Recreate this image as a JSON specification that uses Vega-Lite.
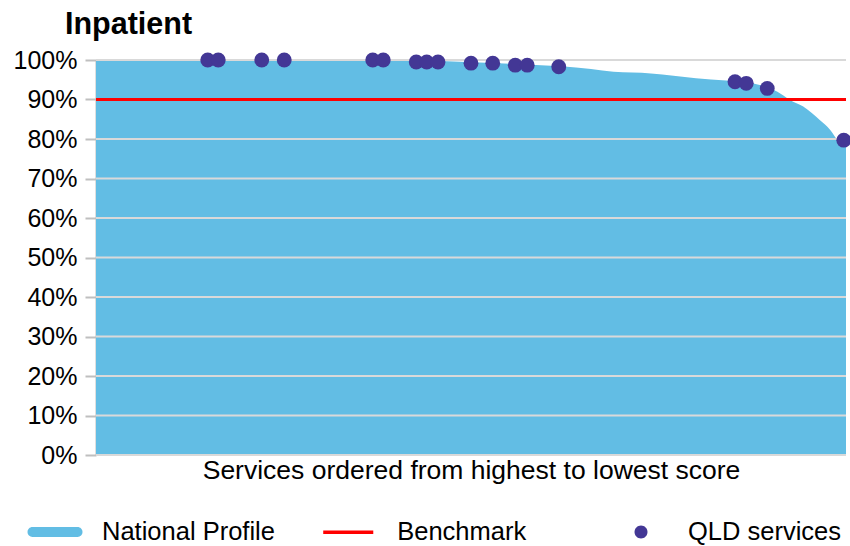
{
  "$schema": "https://vega.github.io/schema/vega-lite/v6.json",
  "width": 750,
  "height": 395,
  "autosize": {"type": "none"},
  "padding": {"left": 96, "top": 60, "right": 4, "bottom": 91},
  "background": "white",
  "config": {
    "view": {"stroke": null},
    "font": "Liberation Sans",
    "axisY": {"labelOverlap": false, "labelSeparation": 0}
  },
  "title": {
    "text": "Inpatient",
    "anchor": "start",
    "frame": "group",
    "fontSize": 30.5,
    "fontWeight": "bold",
    "font": "Liberation Sans",
    "color": "black",
    "dx": -31,
    "dy": 30,
    "offset": 14,
    "baseline": "alphabetic"
  },
  "datasets": {
    "profile": [
      {"idx": 0, "val": 100}, {"idx": 10, "val": 100}, {"idx": 20, "val": 100},
      {"idx": 30, "val": 99.95}, {"idx": 38, "val": 99.9}, {"idx": 46.8, "val": 99.7},
      {"idx": 52, "val": 99.3}, {"idx": 55.6, "val": 99.0}, {"idx": 58, "val": 98.8},
      {"idx": 62, "val": 98.4}, {"idx": 66, "val": 97.7}, {"idx": 69, "val": 97.0},
      {"idx": 74, "val": 96.6}, {"idx": 80, "val": 95.4}, {"idx": 84, "val": 94.8},
      {"idx": 88.5, "val": 93.7}, {"idx": 90.8, "val": 92.0}, {"idx": 92.5, "val": 89.9},
      {"idx": 94.3, "val": 88.2}, {"idx": 96.5, "val": 84.8}, {"idx": 97.9, "val": 82.3},
      {"idx": 98.8, "val": 79.9}, {"idx": 100, "val": 78}
    ],
    "grid": [
      {"val": 0}, {"val": 10}, {"val": 20}, {"val": 30}, {"val": 40}, {"val": 50},
      {"val": 60}, {"val": 70}, {"val": 80}, {"val": 90}, {"val": 100}
    ],
    "qld": [
      {"idx": 14.9, "val": 100}, {"idx": 16.3, "val": 100}, {"idx": 22.1, "val": 100},
      {"idx": 25.1, "val": 100}, {"idx": 36.9, "val": 100}, {"idx": 38.3, "val": 100},
      {"idx": 42.7, "val": 99.5}, {"idx": 44.1, "val": 99.5}, {"idx": 45.6, "val": 99.5},
      {"idx": 50.0, "val": 99.2}, {"idx": 52.9, "val": 99.2}, {"idx": 55.9, "val": 98.7},
      {"idx": 57.5, "val": 98.7}, {"idx": 61.7, "val": 98.3}, {"idx": 85.2, "val": 94.5},
      {"idx": 86.7, "val": 94.1}, {"idx": 89.5, "val": 92.8}, {"idx": 99.7, "val": 79.7}
    ]
  },
  "layer": [
    {
      "data": {"name": "profile"},
      "mark": {"type": "area", "interpolate": "monotone", "opacity": 1},
      "encoding": {
        "x": {
          "field": "idx", "type": "quantitative",
          "scale": {"domain": [0, 100], "nice": false, "zero": false},
          "axis": {
            "title": "Services ordered from highest to lowest score",
            "labels": false, "ticks": false, "domain": false, "grid": false,
            "titleFontSize": 26.5, "titleFontWeight": "normal", "titleColor": "black",
            "titleFont": "Liberation Sans", "titlePadding": 2
          }
        },
        "y": {
          "field": "val", "type": "quantitative",
          "scale": {"domain": [0, 100], "nice": false},
          "axis": {
            "title": null,
            "values": [0, 10, 20, 30, 40, 50, 60, 70, 80, 90, 100],
            "labelExpr": "datum.value + '%'",
            "labelOverlap": false,
            "labelFontSize": 25, "labelColor": "black", "labelFont": "Liberation Sans",
            "tickSize": 11, "tickColor": "#bfbfbf", "tickWidth": 2,
            "domainColor": "#bfbfbf", "domainWidth": 2,
            "labelPadding": 8, "grid": false
          }
        },
        "fill": {
          "datum": "National Profile",
          "scale": {"range": ["#62BDE4"]},
          "legend": {
            "orient": "none", "legendX": -68.5, "legendY": 444.5, "title": null,
            "padding": 0,
            "symbolType": "M-0.82,-0.18L0.82,-0.18A0.18,0.18,0,0,1,0.82,0.18L-0.82,0.18A0.18,0.18,0,0,1,-0.82,-0.18Z",
            "symbolSize": 3025, "symbolStrokeWidth": 0, "symbolOpacity": 1,
            "labelFontSize": 25.5, "labelOffset": 19.5, "labelColor": "black",
            "labelFont": "Liberation Sans", "labelLimit": 400
          }
        }
      }
    },
    {
      "data": {"name": "grid"},
      "mark": {"type": "rule", "color": "#d9d9d9", "strokeWidth": 2},
      "encoding": {
        "y": {
          "field": "val", "type": "quantitative",
          "axis": {
            "title": null,
            "values": [0, 10, 20, 30, 40, 50, 60, 70, 80, 90, 100],
            "labelExpr": "datum.value + '%'",
            "labelOverlap": false,
            "labelFontSize": 25, "labelColor": "black", "labelFont": "Liberation Sans",
            "tickSize": 11, "tickColor": "#bfbfbf", "tickWidth": 2,
            "domainColor": "#bfbfbf", "domainWidth": 2,
            "labelPadding": 8, "grid": false
          }
        }
      }
    },
    {
      "data": {"values": [{"val": 90}]},
      "mark": {"type": "rule", "strokeWidth": 3},
      "encoding": {
        "y": {
          "field": "val", "type": "quantitative",
          "axis": {
            "title": null,
            "values": [0, 10, 20, 30, 40, 50, 60, 70, 80, 90, 100],
            "labelExpr": "datum.value + '%'",
            "labelOverlap": false,
            "labelFontSize": 25, "labelColor": "black", "labelFont": "Liberation Sans",
            "tickSize": 11, "tickColor": "#bfbfbf", "tickWidth": 2,
            "domainColor": "#bfbfbf", "domainWidth": 2,
            "labelPadding": 8, "grid": false
          }
        },
        "stroke": {
          "datum": "Benchmark",
          "scale": {"range": ["#FF0000"]},
          "legend": {
            "orient": "none", "legendX": 222.75, "legendY": 442.75, "title": null,
            "padding": 0,
            "symbolType": "M-0.91,0L0.91,0",
            "symbolSize": 3025, "symbolStrokeWidth": 3.5, "symbolOpacity": 1,
            "labelFontSize": 25.5, "labelOffset": 19.5, "labelColor": "black",
            "labelFont": "Liberation Sans", "labelLimit": 400
          }
        }
      }
    },
    {
      "data": {"name": "qld"},
      "mark": {"type": "point", "filled": true, "opacity": 1, "size": 220, "shape": "circle"},
      "encoding": {
        "x": {
          "field": "idx", "type": "quantitative",
          "axis": {
            "title": "Services ordered from highest to lowest score",
            "labels": false, "ticks": false, "domain": false, "grid": false,
            "titleFontSize": 26.5, "titleFontWeight": "normal", "titleColor": "black",
            "titleFont": "Liberation Sans", "titlePadding": 2
          }
        },
        "y": {
          "field": "val", "type": "quantitative",
          "axis": {
            "title": null,
            "values": [0, 10, 20, 30, 40, 50, 60, 70, 80, 90, 100],
            "labelExpr": "datum.value + '%'",
            "labelOverlap": false,
            "labelFontSize": 25, "labelColor": "black", "labelFont": "Liberation Sans",
            "tickSize": 11, "tickColor": "#bfbfbf", "tickWidth": 2,
            "domainColor": "#bfbfbf", "domainWidth": 2,
            "labelPadding": 8, "grid": false
          }
        },
        "color": {
          "datum": "QLD services",
          "scale": {"range": ["#433795"]},
          "legend": {
            "orient": "none", "legendX": 517.5, "legendY": 444.5, "title": null,
            "padding": 0,
            "symbolType": "M-0.236,0A0.236,0.236,0,1,1,0.236,0A0.236,0.236,0,1,1,-0.236,0Z",
            "symbolSize": 3025, "symbolStrokeWidth": 0, "symbolOpacity": 1,
            "labelFontSize": 25.5, "labelOffset": 19.5, "labelColor": "black",
            "labelFont": "Liberation Sans", "labelLimit": 400
          }
        }
      }
    }
  ]
}
